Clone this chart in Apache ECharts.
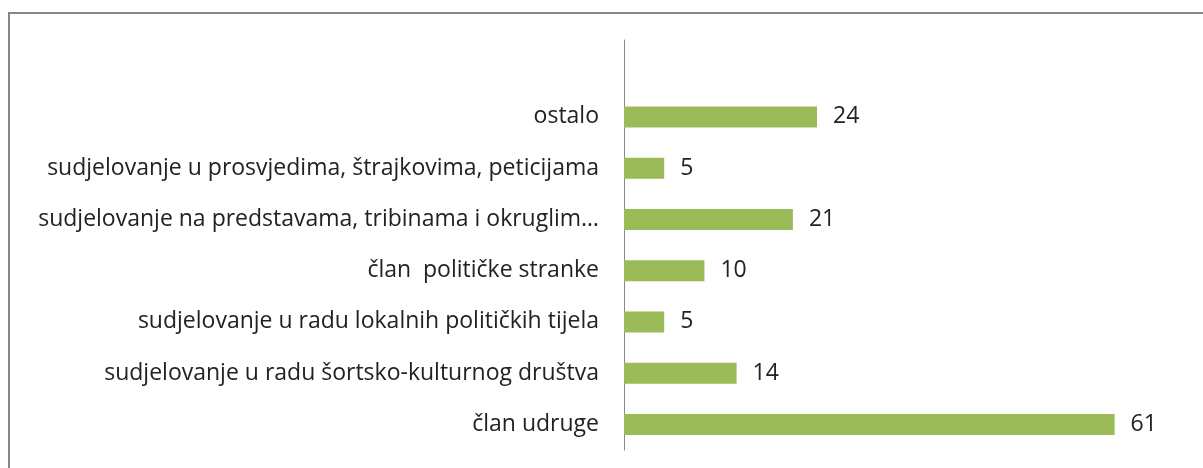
<!DOCTYPE html>
<html>
<head>
<meta charset="utf-8">
<script src="https://cdn.jsdelivr.net/npm/echarts@6/dist/echarts.min.js"></script>
<style>
    html, body { margin: 0; padding: 0; background: #fff; overflow: hidden; }
    #frame { position: absolute; left: 8px; top: 12px; width: 1400px; height: 600px; border: 2px solid #868686; }
    #chart { position: absolute; left: 0; top: 0; width: 1203px; height: 468px; }
</style>
</head>
<body>
<div id="frame"></div>
<div id="chart"></div>
<script>
// kategorije odozdo prema gore (zadnja prazna, iznad "ostalo")
var categories = [
    'član udruge',
    'sudjelovanje u radu šortsko-kulturnog društva',
    'sudjelovanje u radu lokalnih političkih tijela',
    'član  političke stranke',
    'sudjelovanje na predstavama, tribinama i okruglim…',
    'sudjelovanje u prosvjedima, štrajkovima, peticijama',
    'ostalo',
    ''
];
var values = [61, 14, 5, 10, 21, 5, 24, null];

var myChart = echarts.init(document.getElementById('chart'));
myChart.setOption({
    animation: false,
    textStyle: { fontFamily: 'Open Sans' },
    grid: { left: 624, right: 16, top: 40, bottom: 18 },
    xAxis: {
        type: 'value',
        min: 0,
        max: 70,
        show: false
    },
    yAxis: {
        type: 'category',
        data: categories,
        axisLine: { lineStyle: { color: '#888', width: 1 } },
        axisTick: { show: false },
        axisLabel: { margin: 25, color: '#222', fontSize: 23 }
    },
    series: [{
        type: 'bar',
        data: values,
        barWidth: 21,
        itemStyle: { color: '#9bbb59' },
        label: {
            show: true,
            position: 'right',
            distance: 16,
            color: '#222',
            fontSize: 23
        }
    }]
});
</script>
</body>
</html>
